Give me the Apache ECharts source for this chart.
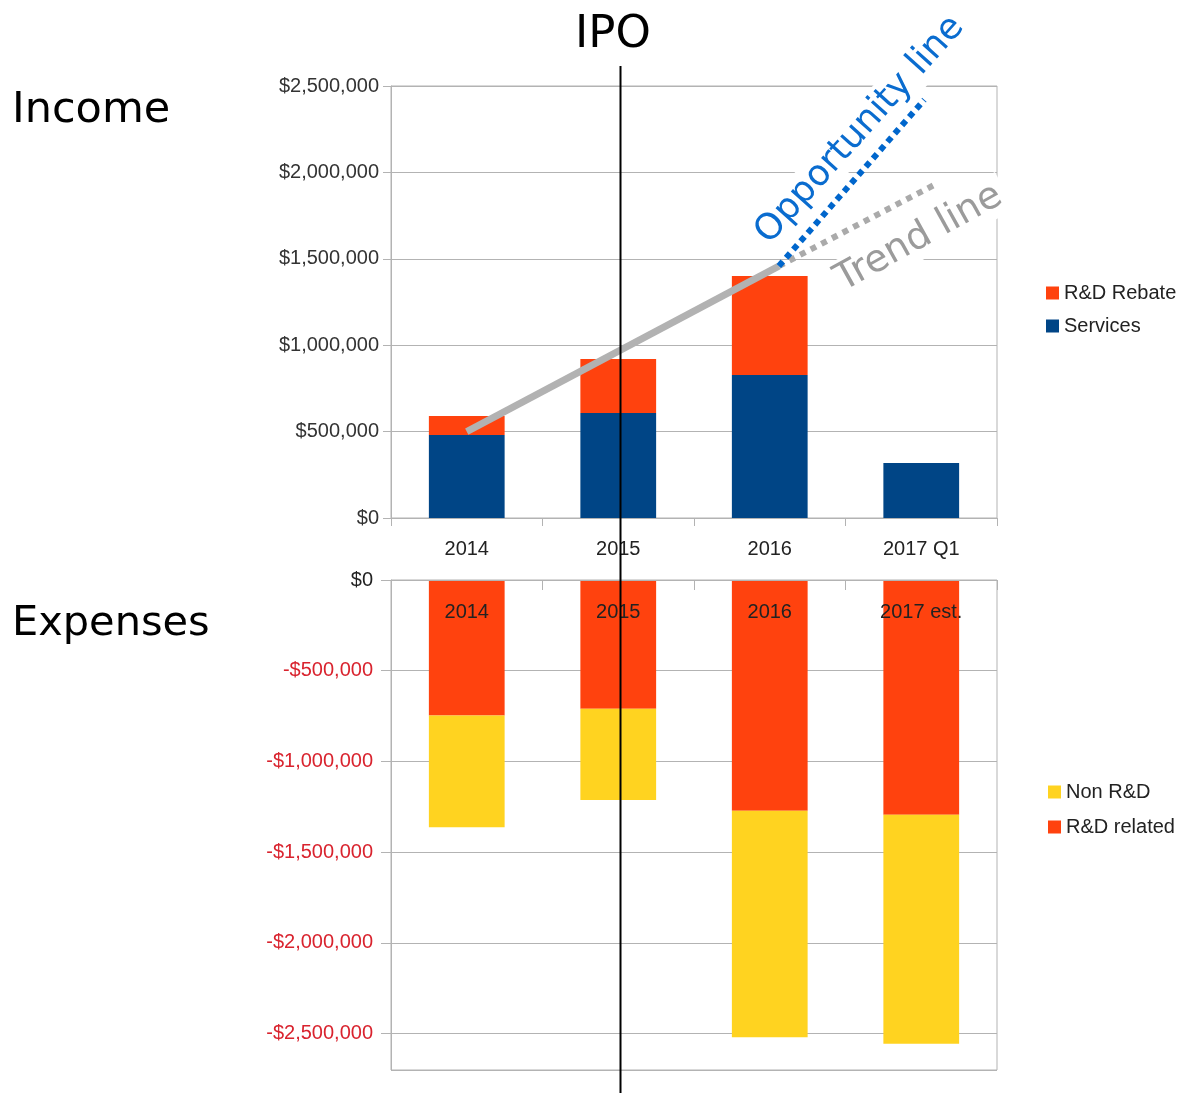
<!DOCTYPE html>
<html>
<head>
<meta charset="utf-8">
<script src="https://cdn.jsdelivr.net/npm/echarts@6/dist/echarts.min.js"></script>
<style>
html,body{margin:0;padding:0;background:#fff;}
#chart{width:1187px;height:1093px;}
</style>
</head>
<body>
<div id="chart"></div>
<script>
// ---- data ----
const incomeCategories = ['2014', '2015', '2016', '2017 Q1'];
const services = [480000, 608000, 828000, 318000];
const rdRebate = [110000, 312000, 572000, null];

const expenseCategories = ['2014', '2015', '2016', '2017 est.'];
const rdRelated = [746000, 709000, 1271000, 1293000];
const nonRD = [617000, 503000, 1248000, 1263000];

// positions along the category index (0 = 2014 centre)
const trendSolidX = [0, 2.06];
const trendSolidY = [500000, 1458000];
const trendDottedX = [2.06, 3.08];
const trendDottedY = [1458000, 1925000];
const opportunityX = [2.06, 3.02];
const opportunityY = [1458000, 2420000];
const ipoPosition = 1.01;

const incomeAxisMax = 2500000;
const expenseAxisMax = 2700000;
const axisStep = 500000;

// ---- helpers ----
function money(v) {
  return '$' + String(Math.round(Math.abs(v))).replace(/\B(?=(\d{3})+(?!\d))/g, ',');
}
function pairs(xs, ys) { return xs.map((x, i) => [x, ys[i]]); }

const FONT = '"Liberation Sans", Arial, sans-serif';
const BIG = '"DejaVu Sans", Verdana, sans-serif';
const GRIDC = '#b3b3b3';
const ORANGE = '#ff420e', BLUE = '#004586', YELLOW = '#ffd320';

const chart = echarts.init(document.getElementById('chart'));

chart.setOption({
  animation: false,
  backgroundColor: '#fff',
  grid: [
    {left: 391, right: 190, top: 86, height: 432, show: true, borderColor: GRIDC, borderWidth: 1, containLabel: false},
    {left: 391, right: 190, top: 580, height: 490, show: true, borderColor: GRIDC, borderWidth: 1, containLabel: false}
  ],
  legend: [
    {
      data: ['R&D Rebate', 'Services'], orient: 'vertical', left: 1041, top: 278,
      itemWidth: 13, itemHeight: 13, itemGap: 13, icon: 'rect',
      textStyle: {fontFamily: FONT, fontSize: 20, color: '#222'}
    },
    {
      data: ['Non R&D', 'R&D related'], orient: 'vertical', left: 1043, top: 777,
      itemWidth: 13, itemHeight: 13, itemGap: 15, icon: 'rect',
      textStyle: {fontFamily: FONT, fontSize: 20, color: '#222'}
    }
  ],
  xAxis: [
    {
      type: 'category', gridIndex: 0, data: incomeCategories, position: 'bottom',
      axisLine: {onZero: false, lineStyle: {color: GRIDC}},
      axisTick: {show: true, length: 8, lineStyle: {color: GRIDC}},
      axisLabel: {fontFamily: FONT, fontSize: 20, color: '#222', margin: 21},
      splitLine: {show: false}
    },
    {
      type: 'category', gridIndex: 1, data: expenseCategories, position: 'top', z: 10,
      axisLine: {onZero: false, lineStyle: {color: GRIDC}},
      axisTick: {show: true, inside: true, length: 10, lineStyle: {color: GRIDC}},
      axisLabel: {inside: true, fontFamily: FONT, fontSize: 20, color: '#222', margin: 22},
      splitLine: {show: false}
    },
    {
      type: 'value', gridIndex: 0, min: -0.5, max: 3.5, show: false,
      axisLine: {show: false, onZero: false}, splitLine: {show: false}
    }
  ],
  yAxis: [
    {
      type: 'value', gridIndex: 0, min: 0, max: incomeAxisMax, interval: axisStep,
      axisLine: {show: true, onZero: false, lineStyle: {color: GRIDC}},
      axisTick: {show: true, length: 8, lineStyle: {color: GRIDC}},
      axisLabel: {fontFamily: FONT, fontSize: 20, color: '#333', margin: 12, formatter: v => money(v)},
      splitLine: {lineStyle: {color: GRIDC}}
    },
    {
      type: 'value', gridIndex: 1, min: 0, max: expenseAxisMax, interval: axisStep, inverse: true,
      axisLine: {show: true, onZero: false, lineStyle: {color: GRIDC}},
      axisTick: {show: true, length: 10, lineStyle: {color: GRIDC}},
      axisLabel: {
        fontFamily: FONT, fontSize: 20, margin: 18, showMaxLabel: false,
        formatter: v => (v === 0 ? '$0' : '-' + money(v)),
        color: v => (Number(v) === 0 ? '#222' : '#d9232e')
      },
      splitLine: {lineStyle: {color: GRIDC}}
    }
  ],
  series: [
    {name: 'Services', type: 'bar', xAxisIndex: 0, yAxisIndex: 0, stack: 'inc', barWidth: '50%',
      itemStyle: {color: BLUE}, data: services},
    {name: 'R&D Rebate', type: 'bar', xAxisIndex: 0, yAxisIndex: 0, stack: 'inc', barWidth: '50%',
      itemStyle: {color: ORANGE}, data: rdRebate},
    {name: 'R&D related', type: 'bar', xAxisIndex: 1, yAxisIndex: 1, stack: 'exp', barWidth: '50%',
      itemStyle: {color: ORANGE}, data: rdRelated},
    {name: 'Non R&D', type: 'bar', xAxisIndex: 1, yAxisIndex: 1, stack: 'exp', barWidth: '50%',
      itemStyle: {color: YELLOW}, data: nonRD},
    {name: 'trendSolid', type: 'line', xAxisIndex: 2, yAxisIndex: 0, symbol: 'none', z: 5,
      lineStyle: {color: '#b2b2b2', width: 7, cap: 'butt'}, data: pairs(trendSolidX, trendSolidY)},
    {name: 'trendDotted', type: 'line', xAxisIndex: 2, yAxisIndex: 0, symbol: 'none', z: 5,
      lineStyle: {color: '#aaaaaa', width: 6, type: [6, 6], cap: 'butt'}, data: pairs(trendDottedX, trendDottedY)},
    {name: 'opportunity', type: 'line', xAxisIndex: 2, yAxisIndex: 0, symbol: 'none', z: 6,
      lineStyle: {color: '#0066cc', width: 6, type: [6, 5], cap: 'butt'}, data: pairs(opportunityX, opportunityY)}
  ]
});

const ipoX = Math.round(chart.convertToPixel({xAxisIndex: 2}, ipoPosition)) + 0.5;

chart.setOption({
  graphic: [
    {type: 'text', left: 12, top: 89, z: 20,
      style: {text: 'Income', font: '43px ' + BIG, fill: '#000'}},
    {type: 'text', left: 12, top: 603, z: 20,
      style: {text: 'Expenses', font: '41.5px ' + BIG, fill: '#000'}},
    {type: 'text', x: 613, y: 35, z: 20,
      style: {text: 'IPO', font: '45px ' + BIG, fill: '#000', align: 'center', verticalAlign: 'middle'}},
    {type: 'line', z: 30, shape: {x1: ipoX, y1: 66, x2: ipoX, y2: 1093},
      style: {stroke: '#000', lineWidth: 2}},
    {type: 'text', x: 860, y: 130, rotation: 48 * Math.PI / 180, z: 25,
      style: {text: 'Opportunity line', font: '36px ' + BIG, fill: '#0a6ccf', align: 'center', verticalAlign: 'middle',
        backgroundColor: '#fff', padding: [2, 6]}},
    {type: 'text', x: 919, y: 238, rotation: 29 * Math.PI / 180, z: 25,
      style: {text: 'Trend line', font: '38px ' + BIG, fill: '#9b9b9b', align: 'center', verticalAlign: 'middle',
        backgroundColor: '#fff', padding: [2, 6]}}
  ]
});
</script>
</body>
</html>
